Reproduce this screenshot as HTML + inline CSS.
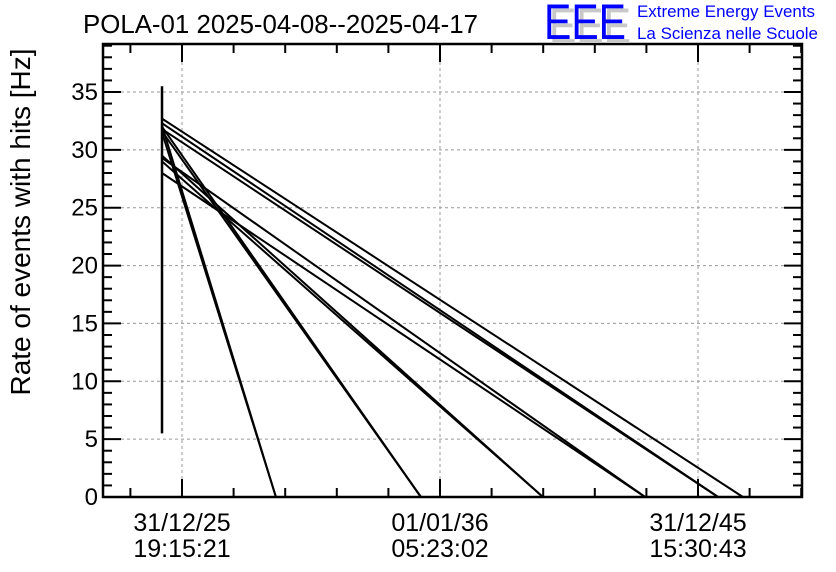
<!DOCTYPE html>
<html><head><meta charset="utf-8"><style>
body{margin:0;background:#fff;}
svg{display:block;font-family:"Liberation Sans",sans-serif;}
</style></head><body>
<svg id="chart" width="836" height="572">
  <g id="grid"></g>
  <g id="series"></g>
  <g id="axes"></g>
  <text x="83" y="33" font-size="26" textLength="395" lengthAdjust="spacingAndGlyphs">POLA-01 2025-04-08--2025-04-17</text>
  <text transform="translate(30,222) rotate(-90)" text-anchor="middle" font-size="28">Rate of events with hits [Hz]</text>
  <g>
    <text x="549" y="43" font-size="50" fill="#c8c8c8" textLength="82" lengthAdjust="spacingAndGlyphs">EEE</text>
    <text x="544" y="39" font-size="50" fill="#0000ff" textLength="82" lengthAdjust="spacingAndGlyphs">EEE</text>
    <text x="637" y="17" font-size="17" fill="#0000ff" textLength="178" lengthAdjust="spacingAndGlyphs">Extreme Energy Events</text>
    <text x="637" y="39" font-size="17" fill="#0000ff" textLength="181" lengthAdjust="spacingAndGlyphs">La Scienza nelle Scuole</text>
  </g>
</svg>
<script>
const xTickValues = [0, 1, 2];
const xTickDates = ["31/12/25", "01/01/36", "31/12/45"];
const xTickTimes = ["19:15:21", "05:23:02", "15:30:43"];
const yTickValues = [0, 5, 10, 15, 20, 25, 30, 35];
const startT = -0.0775;
const startRates = [32.7, 32.3, 31.8, 29.3, 28.0, 29.5, 29.0, 32.0, 31.6, 32.1, 31.5];
const endTimes = [2.174, 2.078, 2.078, 1.795, 1.795, 1.399, 1.399, 0.926, 0.926, 0.364, 0.364];
const vertLow = 5.5, vertHigh = 35.5;

const L=103,R=802,T=44,B=497;
const x0px=182, xUnit=258;
function xs(t){return x0px+t*xUnit;}
function ys(v){return B-(v)*(B-92)/35;}
const NS="http://www.w3.org/2000/svg";
function mk(tag,parent,attrs){const e=document.createElementNS(NS,tag);for(const k in attrs)e.setAttribute(k,attrs[k]);parent.appendChild(e);return e;}
const grid=document.getElementById('grid'), axes=document.getElementById('axes'), series=document.getElementById('series');
yTickValues.forEach(v=>{if(v>0){const l=mk('line',grid,{x1:L,x2:R,y1:ys(v),y2:ys(v),stroke:'#999','stroke-dasharray':'3,3','stroke-width':1});

}});
xTickValues.forEach(t=>{const l=mk('line',grid,{x1:xs(t),x2:xs(t),y1:T,y2:B,stroke:'#999','stroke-dasharray':'3,3','stroke-width':1});

});
const v=mk('line',series,{x1:xs(startT),x2:xs(startT),y1:ys(vertLow),y2:ys(vertHigh),stroke:'#000','stroke-width':2.5});


startRates.forEach((r,i)=>{const l=mk('line',series,{x1:xs(startT),y1:ys(r),x2:xs(endTimes[i]),y2:ys(0),stroke:'#000','stroke-width':2});

});
const f=mk('rect',axes,{x:L,y:T,width:R-L,height:B-T,fill:'none',stroke:'#000','stroke-width':2.5});


for(let v2=0;v2<=39;v2++){const major=v2%5===0;const len=major?18:9;
 mk('line',axes,{x1:L,x2:L+len,y1:ys(v2),y2:ys(v2),stroke:'#000','stroke-width':2});
 mk('line',axes,{x1:R,x2:R-len,y1:ys(v2),y2:ys(v2),stroke:'#000','stroke-width':2});}
yTickValues.forEach(v2=>{const t=mk('text',axes,{x:98,y:ys(v2)+8,'text-anchor':'end','font-size':24});t.textContent=v2;

});
const tMin=(L-x0px)/xUnit,tMax=(R-x0px)/xUnit;
for(let k=Math.ceil(tMin*5);k<=Math.floor(tMax*5);k++){const t=k/5;const major=k%5===0;const len=major?18:9;
 mk('line',axes,{x1:xs(t),x2:xs(t),y1:B,y2:B-len,stroke:'#000','stroke-width':2});
 mk('line',axes,{x1:xs(t),x2:xs(t),y1:T,y2:T+len,stroke:'#000','stroke-width':2});}
xTickValues.forEach((t,i)=>{const a=mk('text',axes,{x:xs(t),y:531,'text-anchor':'middle','font-size':25});a.textContent=xTickDates[i];


const b=mk('text',axes,{x:xs(t),y:557,'text-anchor':'middle','font-size':25});b.textContent=xTickTimes[i];

});
</script>
</body></html>
